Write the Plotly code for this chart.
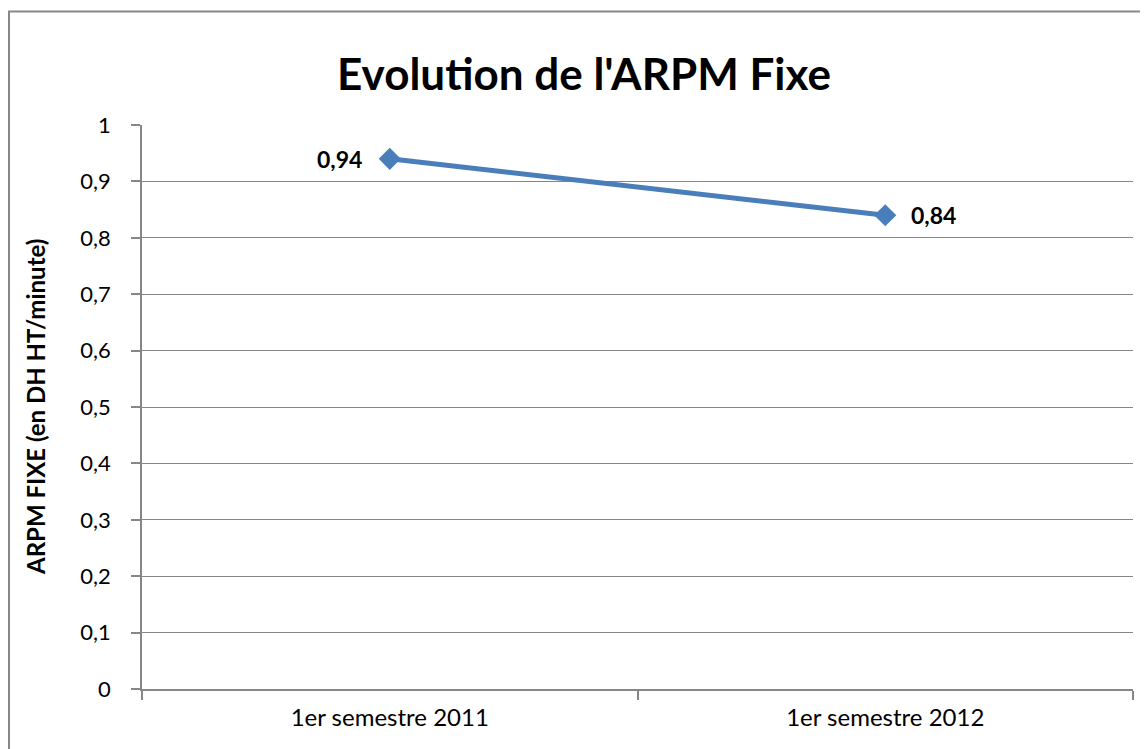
import plotly.graph_objects as go

categories = ["1er semestre 2011", "1er semestre 2012"]
values = [0.94, 0.84]

title_text = "Evolution de l'ARPM Fixe"
y_title = "ARPM FIXE (en DH HT/minute)"

# The page body adds an 8px offset; the figure is sized to fit the window.
W, H = 1140, 741
L, R, T, B = 134, 15, 117, 60
pw, ph = W - L - R, H - T - B

def px_x(p):
    return (p - L) / pw

def px_y(p):
    return (H - B - p) / ph

font_family = "Lato, 'Open Sans', sans-serif"
grey = "#868686"
blue = "#4A7EBB"

fig = go.Figure()
fig.add_trace(go.Scatter(
    x=categories, y=values,
    mode="lines+markers",
    line=dict(color=blue, width=5),
    marker=dict(symbol="diamond", size=17, color=blue),
    cliponaxis=False,
    hoverinfo="skip",
))

labels = [f"{v:.2f}".replace(".", ",") for v in values]
anchors = ["right", "left"]
shifts = [-26, 24]
annotations = []
for c, v, t, a, s in zip(categories, values, labels, anchors, shifts):
    annotations.append(dict(
        x=c, y=v, xref="x", yref="y", text=t, showarrow=False,
        xanchor=a, yanchor="middle", xshift=s,
        font=dict(family=font_family, size=23, color="black", weight="bold"),
    ))
annotations.append(dict(
    x=px_x(27), y=0.5, xref="paper", yref="paper", text=y_title,
    textangle=-90, showarrow=False, xanchor="center", yanchor="middle",
    font=dict(family=font_family, size=24, color="black", weight="bold"),
))

fig.update_layout(
    width=W, height=H,
    margin=dict(l=L, r=R, t=T, b=B, autoexpand=False),
    paper_bgcolor="white", plot_bgcolor="white",
    showlegend=False,
    separators=", ",
    font=dict(family=font_family, size=22, color="black"),
    title=dict(text=title_text, x=(576) / W, xanchor="center",
               y=1 - 67 / H, yanchor="middle",
               font=dict(family=font_family, size=44, color="black", weight="bold")),
    xaxis=dict(
        type="category", tickson="boundaries", ticks="outside", ticklen=9,
        tickcolor=grey, tickwidth=1.5, showgrid=False,
        showline=True, linecolor=grey, linewidth=1.5,
        tickfont=dict(size=24), range=[-0.5, 1.5],
        ticklabelstandoff=6,
    ),
    yaxis=dict(
        range=[0, 1], dtick=0.1, tick0=0, ticks="outside", ticklen=9,
        tickcolor=grey, tickwidth=1.5, showgrid=True, gridcolor=grey, gridwidth=1.3,
        showline=True, linecolor=grey, linewidth=1.5, zeroline=False,
        tickformat=".1~f", ticklabelstandoff=16,
        tickfont=dict(size=22),
    ),
    annotations=annotations,
    shapes=[dict(
        type="rect", xref="paper", yref="paper",
        x0=px_x(1), y0=px_y(780), x1=px_x(1180), y1=px_y(3.5),
        line=dict(color="#878787", width=2), fillcolor="rgba(0,0,0,0)", layer="above",
    )],
)

fig.write_html("out.html")
